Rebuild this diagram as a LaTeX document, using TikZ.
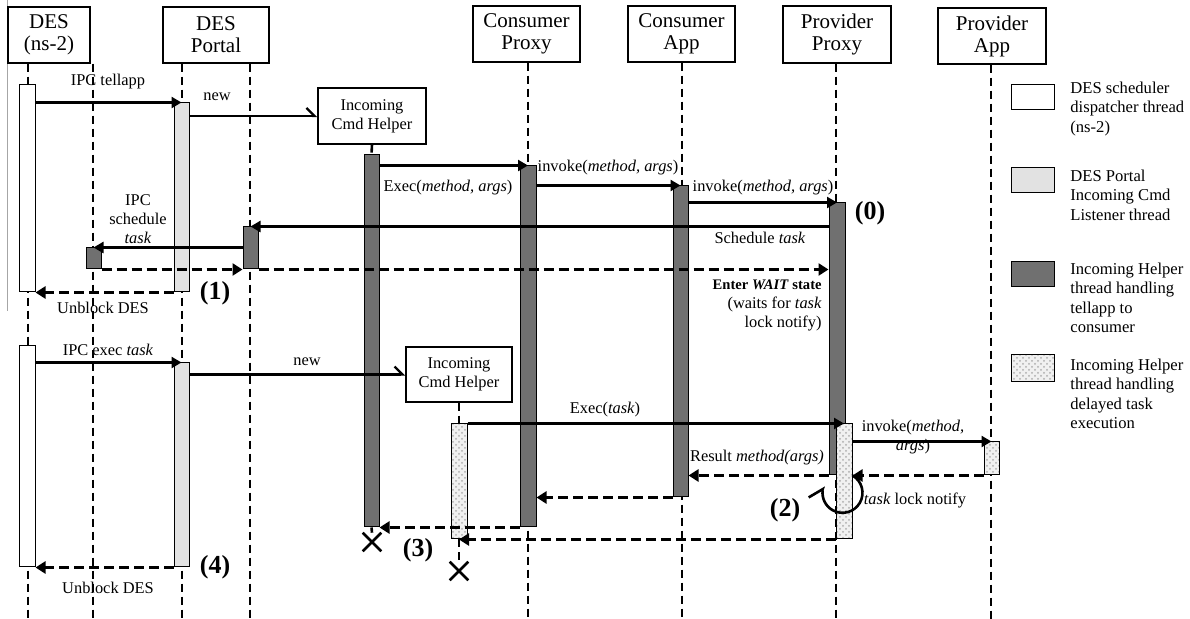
\documentclass[tikz,border=0pt]{standalone}
\usepackage{fontspec}
\setmainfont{Liberation Serif}
\usetikzlibrary{arrows.meta,bending,patterns,fit,shapes.misc}

\definecolor{lightbar}{RGB}{226,226,226}
\definecolor{darkbar}{RGB}{112,112,112}

\tikzset{
  head/.style={draw, line width=0.6pt, align=center, inner sep=0pt,
    font=\fontsize{10.5}{11}\selectfont},
  helperbox/.style={draw, line width=0.6pt, align=center, inner sep=0pt,
    font=\fontsize{8.2}{9.5}\selectfont},
  life/.style={line width=1.3pt, dash pattern=on 4pt off 2.5pt},
  barbase/.style={draw, line width=0.5pt, inner sep=0pt},
  wbar/.style={barbase, fill=white},
  lbar/.style={barbase, fill=lightbar},
  dbar/.style={barbase, fill=darkbar},
  hbar/.style={barbase, preaction={fill=gray!12}, pattern=crosshatch dots, pattern color=gray!65},
  msg/.style={line width=1.2pt, -{Triangle[length=5pt,width=5.5pt]}},
  ret/.style={line width=1.3pt, dash pattern=on 5pt off 2.5pt, -{Triangle[length=5pt,width=6pt]}},
  create/.style={line width=1.2pt, -{Straight Barb[harpoon,length=4pt,width=8pt,line width=1.2pt]}},
  lab/.style={font=\fontsize{8.2}{9.5}\selectfont, inner sep=0pt, align=center},
  num/.style={font=\fontsize{13}{14}\selectfont\bfseries, inner sep=0pt},
  legtext/.style={font=\fontsize{8.3}{9.75}\selectfont, inner sep=0pt, align=left, anchor=north west},
  kill/.style={cross out, draw, line width=1.3pt, minimum size=8pt, inner sep=0pt}
}

\begin{document}
\begin{tikzpicture}[x=0.5pt, y=-0.5pt]
\useasboundingbox (0,0) rectangle (1190,619);

% thin rule along the left edge
\draw[gray!70, line width=0.5pt] (7,0) -- (7,311);

% participants
\node[head, minimum width=41pt, minimum height=28pt] (des) at (49,35) {DES\\(ns-2)};
\node[head, minimum width=53pt, minimum height=28pt] (portal) at (216,35) {DES\\Portal};
\node[head, minimum width=53.5pt, minimum height=28pt] (cproxy) at (526.5,34) {Consumer\\Proxy};
\node[head, minimum width=53.5pt, minimum height=28pt] (capp) at (681.5,34) {Consumer\\App};
\node[head, minimum width=54pt, minimum height=28.5pt] (pproxy) at (837,34.5) {Provider\\Proxy};
\node[head, minimum width=54pt, minimum height=28pt] (papp) at (992,36) {Provider\\App};
\node[helperbox, minimum width=54pt, minimum height=28pt] (hbox1) at (372,116) {Incoming\\Cmd Helper};
\node[helperbox, minimum width=53pt, minimum height=27.5pt] (hbox2) at (459,374.5) {Incoming\\Cmd Helper};

% lifelines
\draw[life] (des.south -| 28,0) -- (28,619);
\draw[life] (des.south -| 93,0) -- (93,619);
\draw[life] (portal.south -| 182,0) -- (182,619);
\draw[life] (portal.south -| 250,0) -- (250,619);
\draw[life] (cproxy.south -| 528,0) -- (528,619);
\draw[life] (capp.south -| 682,0) -- (682,619);
\draw[life] (pproxy.south -| 836,0) -- (836,619);
\draw[life] (papp.south -| 991,0) -- (991,619);

% activation bars
\node[wbar, fit={(19,85) (35,292)}] (d1) {};
\node[wbar, fit={(19,346) (35,567)}] (d2) {};
\node[lbar, fit={(174,103) (189,292)}] (p1) {};
\node[lbar, fit={(174,363) (189,567)}] (p2) {};
\node[dbar, fit={(86,248) (101,269)}] (s1) {};
\node[dbar, fit={(243,227) (258,269)}] (q1) {};
\node[dbar, fit={(364,155) (379,527)}] (h1) {};
\node[dbar, fit={(520,166) (536,527)}] (cp) {};
\node[dbar, fit={(673,186) (688,497)}] (ca) {};
\node[dbar, fit={(829,203) (845,475)}] (pp) {};
\node[hbar, fit={(836,424) (852,539)}] (pq) {};
\node[hbar, fit={(451,424) (467,539)}] (h2) {};
\node[hbar, fit={(984,442) (999,475)}] (pa) {};

% helper lifelines and their ends
\draw[life] (hbox1.south) -- (h1.north);
\draw[life] (hbox2.south) -- (h2.north);
\node[kill] (x1) at (372,542) {};
\node[kill] (x2) at (459,571) {};
\draw[life] (h1.south) -- (x1.north);
\draw[life] (h2.south) -- (x2.north);

% first phase: tellapp
\draw[msg] (d1.east |- p1.north) -- (p1.north);
\node[lab] at (108,82) {IPC tellapp};
\draw[create] (p1.east |- hbox1.west) -- (hbox1.west);
\node[lab] at (217,97) {new};
\draw[msg] (h1.east |- cp.north) -- (cp.north);
\node[lab] at (448,188) {Exec(\textit{method, args})};
\draw[msg] (cp.east |- ca.north) -- (ca.north);
\node[lab] at (608,168) {invoke(\textit{method, args})};
\draw[msg] (ca.east |- pp.north) -- (pp.north);
\node[lab] at (763,188) {invoke(\textit{method, args})};
\node[num] at (870,213) {(0)};
\draw[msg] (pp.west |- q1.north) -- (q1.north);
\node[lab] at (760,238) {Schedule \textit{task}};
\draw[msg] (q1.west |- s1.north) -- (s1.north);
\node[lab] at (138,219) {IPC\\schedule\\\textit{task}};
\draw[ret] (s1.south east) -- (q1.south west);
\draw[ret] (q1.south east) -- (pp.west |- q1.south);
\node[lab, anchor=east, align=right] at (822,305.5)
  {{\fontsize{7.3}{9.5}\selectfont\bfseries Enter \textit{WAIT} state}\\(waits for \textit{task}\\lock notify)};
\draw[ret] (p1.south west) -- (d1.south east);
\node[lab] at (103,308) {Unblock DES};
\node[num] at (215,293) {(1)};

% second phase: delayed execution
\draw[msg] (d2.east |- p2.north) -- (p2.north);
\node[lab] at (108,350) {IPC exec \textit{task}};
\draw[create] (p2.east |- hbox2.west) -- (hbox2.west);
\node[lab] at (307,362) {new};
\draw[msg] (h2.north east) -- (pq.north);
\node[lab] at (605,410) {Exec(\textit{task})};
\draw[msg] (pq.east |- pa.north) -- (pa.north);
\node[lab] at (913,437) {invoke(\textit{method,}\\\textit{args})};
\draw[ret] (pa.south west) -- (pq.east |- pa.south);
\draw[line width=1.3pt, -{Straight Barb[harpoon,length=6pt,width=11pt,line width=1.3pt]}]
  (pq.east |- pa.south) arc[start angle=60, end angle=-200, radius=10pt];
\node[lab] at (915,500) {\textit{task} lock notify};
\draw[ret] (pp.south west) -- (ca.east |- pp.south);
\node[lab] at (757,458) {Result \textit{method(args)}};
\node[num] at (785,510) {(2)};
\draw[ret] (ca.south west) -- (cp.east |- ca.south);
\draw[ret] (cp.south west) -- (h1.south east);
\draw[ret] (pq.south west) -- (h2.south);
\node[num] at (418,550) {(3)};
\draw[ret] (p2.south west) -- (d2.south east);
\node[lab] at (108,588) {Unblock DES};
\node[num] at (215,567) {(4)};

% legend
\node[wbar, fit={(1011,85) (1054,110)}] (k1) {};
\node[lbar, fit={(1011,168) (1054,193)}] (k2) {};
\node[dbar, fit={(1011,262) (1054,287)}] (k3) {};
\node[hbar, fit={(1011,355) (1054,382)}] (k4) {};
\node[legtext] (t1) at (1070,81.5) {DES scheduler\\dispatcher thread\\(ns-2)};
\node[legtext] (t2) at (1070,169.5) {DES Portal\\Incoming Cmd\\Listener thread};
\node[legtext] (t3) at (1070,262.5) {Incoming Helper\\thread handling\\tellapp to\\consumer};
\node[legtext] (t4) at (1070,358.5) {Incoming Helper\\thread handling\\delayed task\\execution};
\end{tikzpicture}
\end{document}
